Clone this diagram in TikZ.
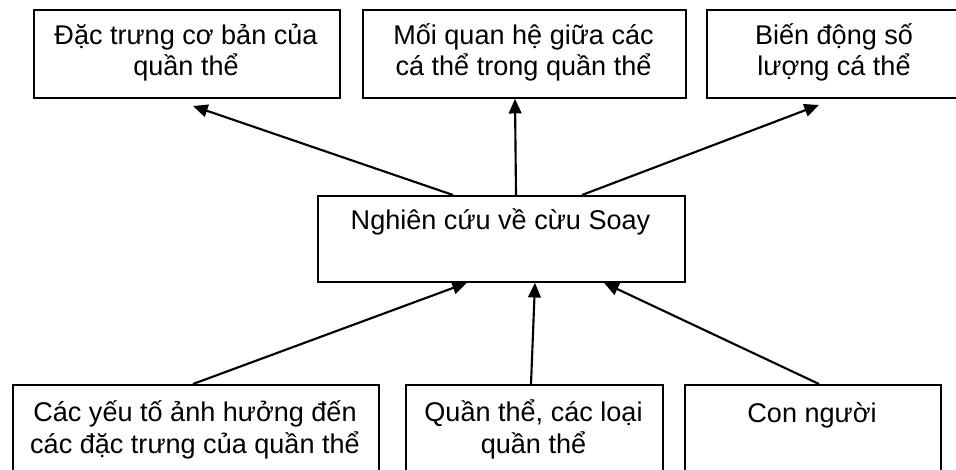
\documentclass[tikz,border=0pt]{standalone}
\usepackage{fontspec}
\setmainfont{Liberation Sans}
\usetikzlibrary{arrows.meta}
\begin{document}
\begin{tikzpicture}[x=0.75pt,y=-0.75pt,
  box/.style n args={2}{draw=black,line width=1.35pt,inner sep=0pt,anchor=north west,
    minimum width={#1*0.75pt},minimum height={#2*0.75pt}},
  lbl/.style={inner sep=0pt,align=center,anchor=base,
    font=\fontsize{20.3}{23.3}\selectfont},
  link/.style={line width=1.6pt,-{Triangle[length=11pt,width=9.5pt]}}]
\useasboundingbox (0,0) rectangle (956,470);
\clip (0,0) rectangle (956,470);
\fill[white] (0,0) rectangle (956,470);

% top row
\node[box={306}{88}] (t1) at (33,9) {};
\node[box={323}{88}] (t2) at (362,9) {};
\node[box={256}{88}] (t3) at (706,9) {};
\node[lbl] (t1x) at (186,76) {Đặc trưng cơ bản của\\quần thể};
\node[lbl] (t2x) at (523.5,76) {Mối quan hệ giữa các\\cá thể trong quần thể};
\node[lbl] (t3x) at (834,76) {Biến động số\\lượng cá thể};

% centre
\node[box={367}{86}] (c) at (317,195) {};
\node[lbl] (cx) at (500.5,230) {Nghiên cứu về cừu Soay};

% bottom row
\node[box={366}{100}] (b1) at (12,384) {};
\node[box={257}{100}] (b2) at (405,384) {};
\node[box={256}{100}] (b3) at (684,384) {};
\node[lbl] (b1x) at (195,453) {Các yếu tố ảnh hưởng đến\\các đặc trưng của quần thể};
\node[lbl] (b2x) at (533.5,453) {Quần thể, các loại\\quần thể};
\node[lbl] (b3x) at (812,422) {Con người};

% connectors
\coordinate (u1) at (193,106);
\coordinate (u3) at (819,105);
\draw[link] (c.north west -| 453,0) -- (u1);
\draw[link] (c.north west -| 516,0) -- (t2.south west -| 515,0);
\draw[link] (c.north west -| 582,0) -- (u3);
\draw[link] (b1.north west -| 193,0) -- (c.south west -| 467,0);
\draw[link] (b2.north west -| 531,0) -- (c.south west -| 535,0);
\draw[link] (b3.north west -| 819,0) -- (c.south west -| 604,0);
\end{tikzpicture}
\end{document}
